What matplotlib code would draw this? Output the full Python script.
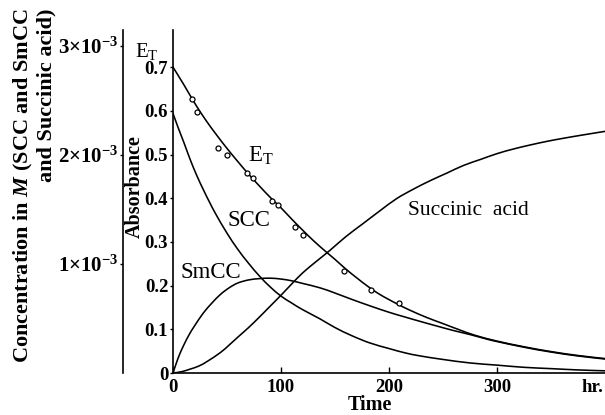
import matplotlib
matplotlib.use("Agg")
import matplotlib.pyplot as plt
from matplotlib.path import Path
from matplotlib.patches import PathPatch

plt.rcParams['font.family'] = ['Liberation Serif', 'DejaVu Serif']
plt.rcParams['mathtext.fontset'] = 'custom'
plt.rcParams['mathtext.rm'] = 'Liberation Serif'
plt.rcParams['mathtext.it'] = 'Liberation Serif:italic:bold'
plt.rcParams['mathtext.bf'] = 'Liberation Serif:bold'

# ---- data (time in hr, absorbance) ----
et_t = [0, 10, 20, 30, 40, 50, 60, 70, 80, 90, 100, 110, 120, 130, 140, 150, 160, 170,
        180, 190, 200, 210, 220, 235, 250, 265, 280, 300, 325, 350, 375, 400]
et_a = [0.700, 0.660, 0.618, 0.580, 0.546, 0.514, 0.484, 0.455, 0.428, 0.402, 0.378,
        0.352, 0.327, 0.303, 0.281, 0.260, 0.238, 0.218, 0.199, 0.182, 0.168, 0.155,
        0.143, 0.127, 0.113, 0.099, 0.086, 0.073, 0.060, 0.049, 0.040, 0.033]

scc_t = [0, 5, 10, 16, 22, 28, 34, 40, 50, 60, 70, 80, 90, 100, 110, 120, 136, 150,
         165, 182, 200, 215, 229, 250, 275, 300, 325, 350, 375, 400]
scc_a = [0.594, 0.560, 0.528, 0.488, 0.452, 0.420, 0.390, 0.362, 0.320, 0.283, 0.251,
         0.222, 0.197, 0.176, 0.160, 0.145, 0.124, 0.104, 0.086, 0.069, 0.056, 0.046,
         0.039, 0.031, 0.023, 0.018, 0.013, 0.010, 0.007, 0.005]

smcc_t = [0, 3, 6, 10, 15, 20, 28, 36, 44, 52, 60, 70, 80, 90, 100, 110, 120, 136, 150,
          165, 182, 200, 215, 229, 245, 260, 275, 290, 300, 325, 350, 375, 400]
smcc_a = [0.000, 0.022, 0.042, 0.064, 0.088, 0.108, 0.137, 0.160, 0.180, 0.195, 0.206,
          0.213, 0.216, 0.217, 0.215, 0.211, 0.205, 0.195, 0.183, 0.169, 0.154, 0.139,
          0.128, 0.118, 0.107, 0.097, 0.088, 0.078, 0.072, 0.059, 0.048, 0.039, 0.032]

suc_t = [0, 8, 16, 24, 32, 44, 52, 60, 70, 80, 90, 100, 110, 120, 132, 145, 160, 176,
         192, 207, 222, 238, 254, 269, 285, 300, 315, 331, 346, 361, 380, 400]
suc_a = [0.000, 0.003, 0.009, 0.016, 0.027, 0.047, 0.064, 0.082, 0.104, 0.128, 0.153,
         0.178, 0.204, 0.229, 0.254, 0.280, 0.312, 0.342, 0.372, 0.399, 0.420, 0.440,
         0.458, 0.475, 0.489, 0.502, 0.5125, 0.522, 0.530, 0.537, 0.545, 0.553]

obs_t = [17.5, 22, 41.4, 49.7, 68.8, 74.4, 92, 97.5, 113, 120, 158, 183, 209]
obs_a = [0.627, 0.597, 0.515, 0.498, 0.457, 0.447, 0.394, 0.385, 0.333, 0.316, 0.234,
         0.190, 0.160]

x_ticks = [0, 100, 200, 300]
x_labels = ['0', '100', '200', '300']
y_ticks = [0, 0.1, 0.2, 0.3, 0.4, 0.5, 0.6, 0.7]
y_labels = ['0', '0.1', '0.2', '0.3', '0.4', '0.5', '0.6', '0.7']
c_ticks = [1e-3, 2e-3, 3e-3]
c_labels = [r'$\mathbf{1{\times}10^{-3}}$', r'$\mathbf{2{\times}10^{-3}}$',
            r'$\mathbf{3{\times}10^{-3}}$']


def smooth_path(xs, ys):
    """Bezier path passing through every read point (Catmull-Rom tangents)."""
    pts = list(zip(xs, ys))
    n = len(pts)
    verts = [pts[0]]
    codes = [Path.MOVETO]
    for i in range(n - 1):
        p0 = pts[i - 1] if i > 0 else pts[i]
        p1 = pts[i]
        p2 = pts[i + 1]
        p3 = pts[i + 2] if i + 2 < n else pts[i + 1]
        c1 = (p1[0] + (p2[0] - p0[0]) / 6, p1[1] + (p2[1] - p0[1]) / 6)
        c2 = (p2[0] - (p3[0] - p1[0]) / 6, p2[1] - (p3[1] - p1[1]) / 6)
        verts += [c1, c2, p2]
        codes += [Path.CURVE4] * 3
    return Path(verts, codes)


W, H = 605, 415
fig = plt.figure(figsize=(W / 100, H / 100), dpi=100)
ax = fig.add_axes([173 / W, 1 - 373 / H, (W - 173) / W, (373 - 30) / H])

lw = 1.15
for t, a in [(et_t, et_a), (scc_t, scc_a), (smcc_t, smcc_a), (suc_t, suc_a)]:
    ax.add_patch(PathPatch(smooth_path(t, a), fill=False, edgecolor='black', lw=lw,
                           capstyle='round', joinstyle='round'))
ax.plot(obs_t, obs_a, linestyle='none', marker='o', ms=3.6, mfc='white',
        mec='black', mew=0.9, zorder=5)

ax.set_xlim(0, 400)
ax.set_ylim(0, 0.785)
for s in ['top', 'right']:
    ax.spines[s].set_visible(False)
for s in ['left', 'bottom']:
    ax.spines[s].set_linewidth(1.2)

ax.set_xticks(x_ticks + [388])
ax.set_xticklabels(x_labels + ['hr.'])
ax.xaxis.get_major_ticks()[-1].tick1line.set_visible(False)
ax.set_yticks(y_ticks)
ax.set_yticklabels(y_labels)
ax.tick_params(axis='x', direction='in', length=4, width=1, pad=4)
ax.tick_params(axis='y', direction='out', length=2.5, width=1, pad=1)
for lab in ax.get_xticklabels() + ax.get_yticklabels():
    lab.set_fontsize(13.5)
    lab.set_fontweight('bold')

ax.text((370 - 173) / 432, (373 - 395) / 343, 'Time', transform=ax.transAxes,
        ha='center', va='top', fontsize=14.5, fontweight='bold')
ax.text((135 - 173) / 432, (373 - 187) / 343, 'Absorbance', transform=ax.transAxes,
        ha='center', va='center', rotation=90, fontsize=14.5, fontweight='bold')
ax.text((147 - 173) / 432, (373 - 52) / 343, r'E$_{\rm T}$', transform=ax.transAxes,
        ha='center', va='center', fontsize=15)

# curve labels
ax.text(69.4, 0.498, r'E$_{\rm T}$', ha='left', va='center', fontsize=16.5)
ax.text(50, 0.349, 'SCC', ha='left', va='center', fontsize=16.5)
ax.text(6.5, 0.229, 'SmCC', ha='left', va='center', fontsize=16.5)
ax.text(217.6, 0.372, 'Succinic  acid', ha='left', va='center', fontsize=15.5)

# concentration axis
ax2 = ax.twinx()
ax2.set_ylim(0, 3.147e-3)
for s in ['top', 'right', 'bottom']:
    ax2.spines[s].set_visible(False)
ax2.spines['left'].set_visible(True)
ax2.spines['left'].set_position(('outward', 36))
ax2.spines['left'].set_linewidth(1.2)
ax2.yaxis.set_ticks_position('left')
ax2.set_yticks(c_ticks)
ax2.set_yticklabels(c_labels)
ax2.tick_params(axis='y', direction='out', length=2.5, width=1, pad=1, labelsize=15)

fig.text(34 / W, 1 - 9 / H,
         'Concentration in $M$ (SCC and SmCC\nand Succinic acid)',
         rotation=90, ha='center', va='top', multialignment='right',
         fontsize=16, fontweight='bold', linespacing=1.12)

fig.savefig('out.png', dpi=100)
